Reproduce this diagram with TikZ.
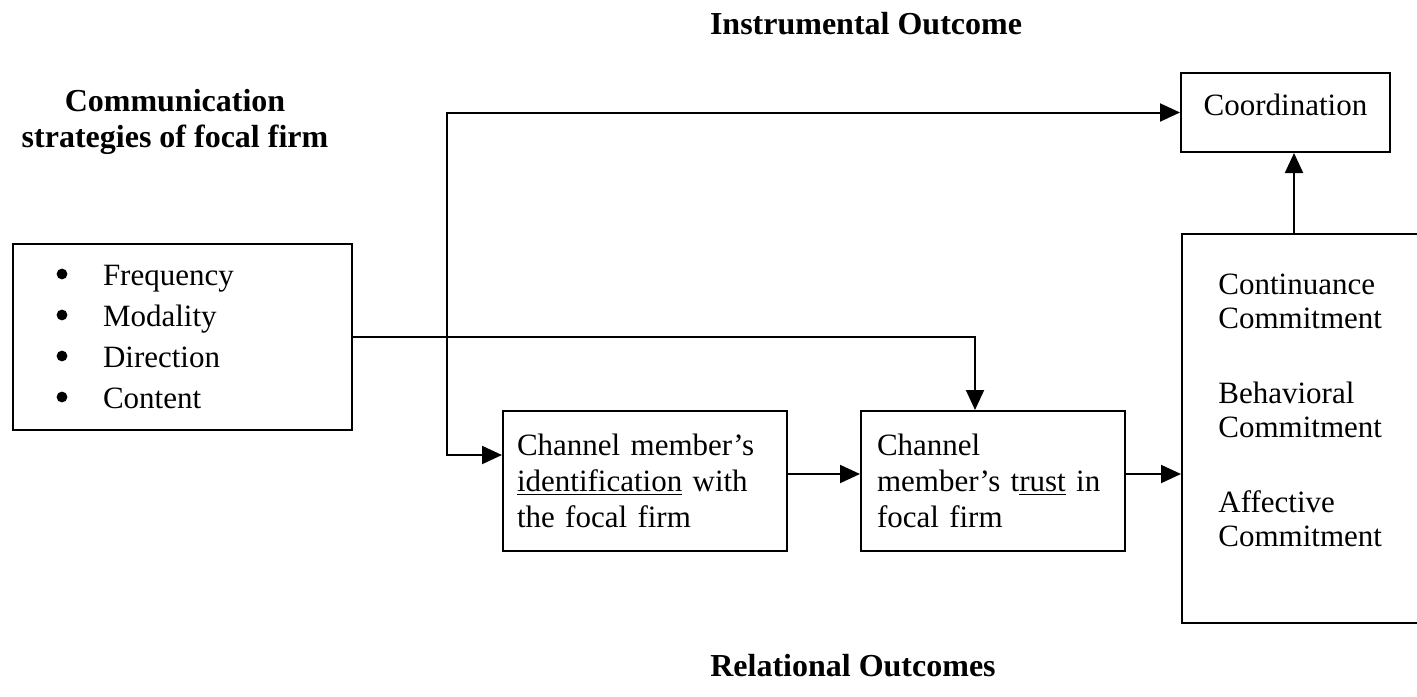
\documentclass[tikz,border=0pt]{standalone}
\usepackage{fontspec}
\setmainfont{Liberation Serif}
\usetikzlibrary{arrows.meta}
\begin{document}
\begin{tikzpicture}[x=0.5pt,y=-0.5pt,
  every node/.style={font=\fontsize{15.5}{18}\selectfont},
  box/.style={draw, line width=1pt, inner sep=0pt},
  title/.style={font=\fontsize{16}{18}\selectfont\bfseries, align=center},
  arr/.style={line width=1pt, -{Triangle[length=10pt,width=9pt]}},
  dot/.style={fill=black}
]
\useasboundingbox (0,0) rectangle (1417,696);

% headings
\node[title] (tinstr) at (866,24) {Instrumental Outcome};
\node[title] (tcomm) at (175,122) {Communication\\strategies of focal firm};
\node[title] (trel) at (853,666) {Relational Outcomes};

% communication strategies
\node[box, minimum width=169.5pt, minimum height=93pt, text width=169.5pt, align=left,
      font=\fontsize{15.5}{20.5}\selectfont] (comms) at (182.5,337)
  {\hspace*{45pt}Frequency\\
   \hspace*{45pt}Modality\\
   \hspace*{45pt}Direction\\
   \hspace*{45pt}Content};
\foreach \y in {274,315,356,397}
  \fill[dot] (62,\y) circle (2.7pt);

% mediators
\node[box, minimum height=70pt, inner xsep=7pt, text width=128pt, align=left] (ident) at (645,481)
  {Channel member’s\\\underline{identification} with\\the focal firm};
\node[box, minimum height=70pt, inner xsep=8pt, text width=116pt, align=left] (trust) at (993,481)
  {Channel\\member’s t\underline{rust} in\\focal firm};

% outcomes
\node[box, minimum width=104.5pt, minimum height=39.5pt, text height=10.5pt, text depth=8pt] (coord) at (1285.5,112.5) {Coordination};
\node[box, anchor=north west, minimum width=135pt, minimum height=194.5pt] (commit) at (1181,233) {};
\node[anchor=west, align=left, inner sep=0pt, font=\fontsize{15.5}{17}\selectfont] (committxt) at (1218,410)
  {Continuance\\Commitment\\[20.5pt]Behavioral\\Commitment\\[20.5pt]Affective\\Commitment};

% connectors
\coordinate (bus) at (447,337);
\draw[arr] (comms.east) -| ([xshift=-9pt]trust.north);
\draw[arr] (bus) |- (coord.west);
\draw[arr] (bus) |- ([yshift=13pt]ident.west);
\draw[arr] ([yshift=3.5pt]ident.east) -- ([yshift=3.5pt]trust.west);
\draw[arr] ([yshift=3.5pt]trust.east) -- ([yshift=3.5pt]trust.east -| commit.west);
\draw[arr] ([xshift=4.25pt]coord.south |- commit.north) -- ([xshift=4.25pt]coord.south);
\end{tikzpicture}
\end{document}
